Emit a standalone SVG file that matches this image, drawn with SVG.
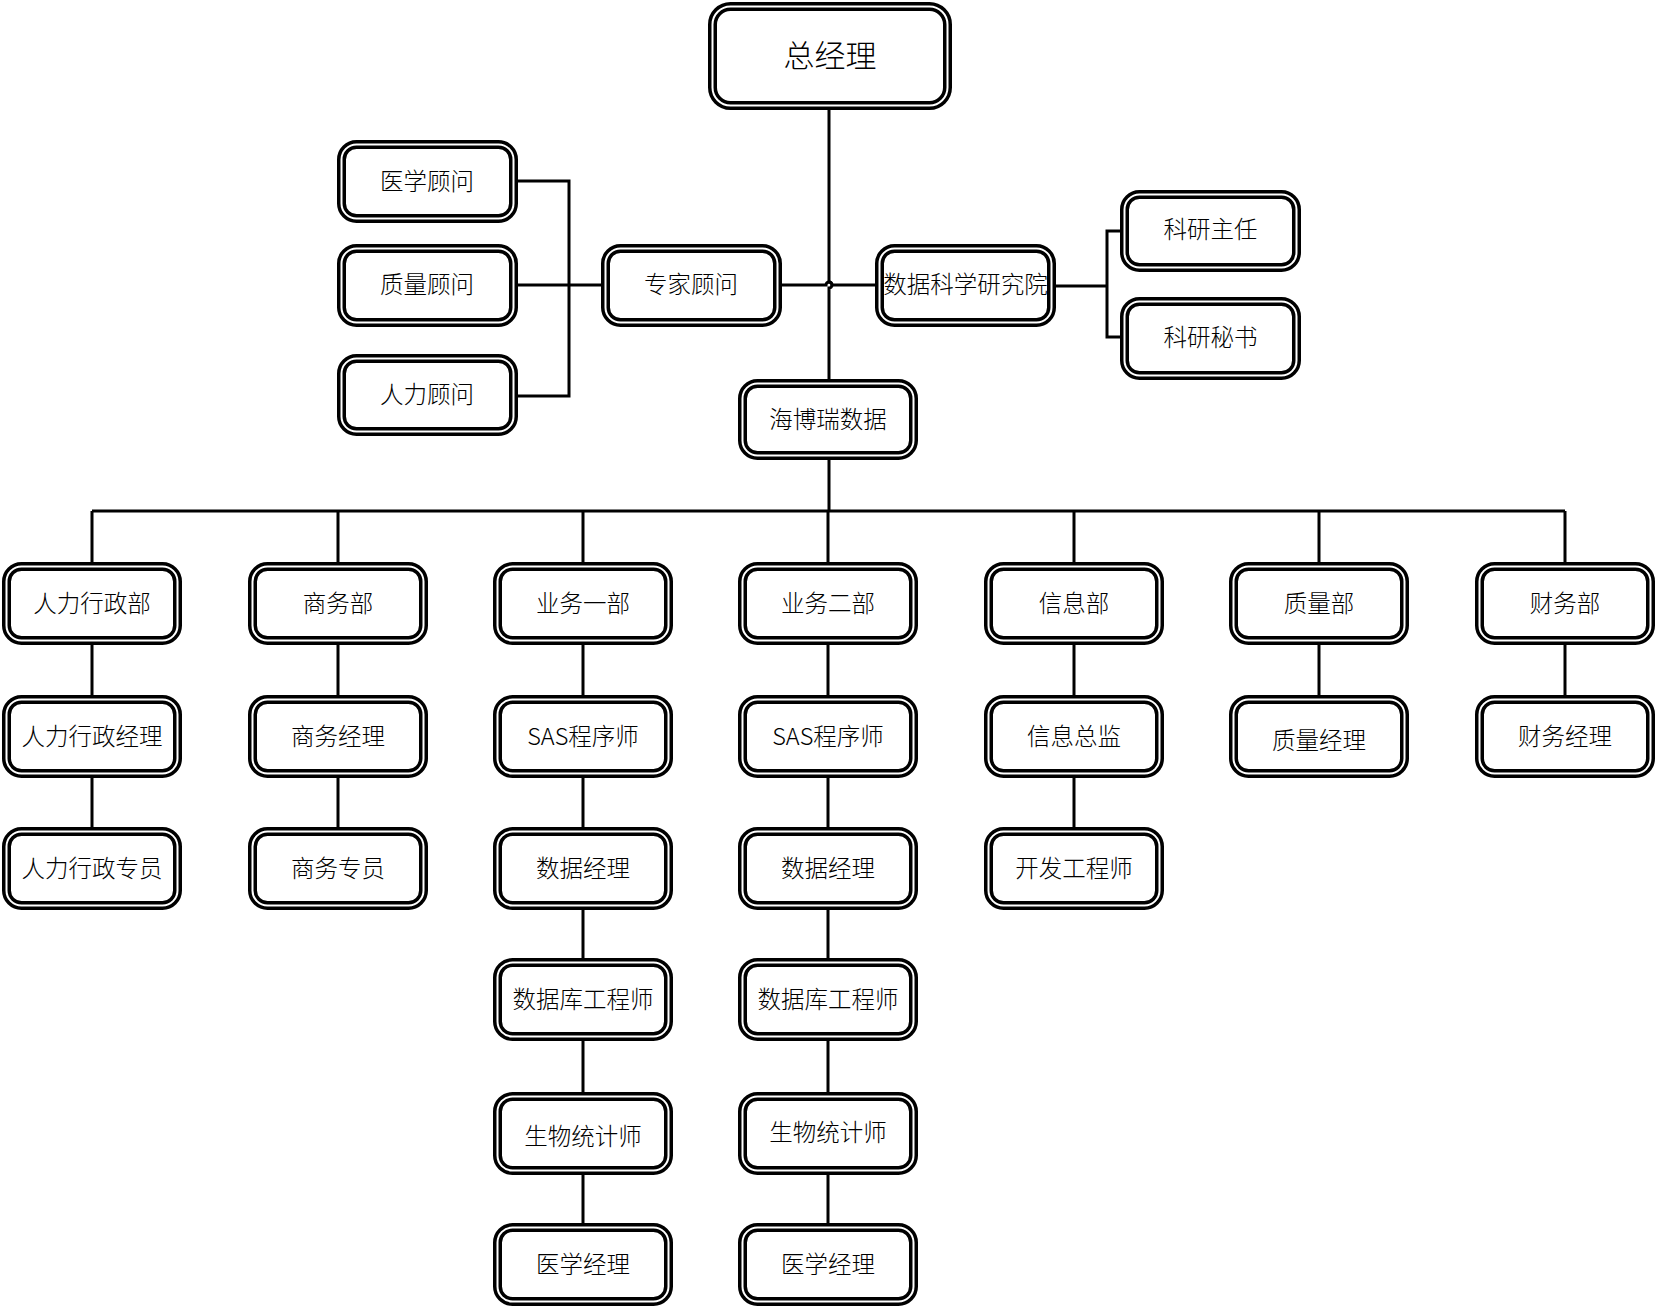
<svg xmlns="http://www.w3.org/2000/svg" width="1657" height="1308" viewBox="0 0 1657 1308">
<style>
.b{fill:#fff;stroke:#000;stroke-width:9}
.w{fill:none;stroke:#fff;stroke-width:2}
.t{font-family:"Noto Sans CJK SC","Noto Sans",sans-serif;font-size:23.5px;font-weight:300;text-anchor:middle;fill:#000}
.big{font-size:31px}
.c{fill:none;stroke:#000;stroke-width:3}
</style>
<rect width="1657" height="1308" fill="#fff"/>
<g id="connectors">
<path class="c" d="M829 110V282a3 3 0 0 1 0 6V379"/>
<path class="c" d="M782 285H826a3 3 0 0 1 6 0H875"/>
<path class="c" d="M518 285H601M518 181H569V396H518"/>
<path class="c" d="M1056 286H1107M1120 231H1107V337H1120"/>
<path class="c" d="M829 460V511M92 511H1565"/>
<path class="c" d="M92 511V562M338 511V562M583 511V562M828 511V562M1074 511V562M1319 511V562M1565 511V562"/>
<path class="c" d="M92 645V695M92 778V827"/>
<path class="c" d="M338 645V695M338 778V827"/>
<path class="c" d="M583 645V695M583 778V827M583 910V958M583 1041V1092M583 1175V1223"/>
<path class="c" d="M828 645V695M828 778V827M828 910V958M828 1041V1092M828 1175V1223"/>
<path class="c" d="M1074 645V695M1074 778V827"/>
<path class="c" d="M1319 645V695"/>
<path class="c" d="M1565 645V695"/>
</g>
<g id="n_zjl"><rect class="b" x="712.5" y="6.5" width="235" height="99" rx="18"/><rect class="w" x="712.5" y="6.5" width="235" height="99" rx="18"/><text class="t big" x="830" y="67">总经理</text></g>
<g id="n_yxgw"><rect class="b" x="341.5" y="144.5" width="172" height="74" rx="15"/><rect class="w" x="341.5" y="144.5" width="172" height="74" rx="15"/><text class="t" x="427" y="190">医学顾问</text></g>
<g id="n_zlgw"><rect class="b" x="341.5" y="248.5" width="172" height="74" rx="15"/><rect class="w" x="341.5" y="248.5" width="172" height="74" rx="15"/><text class="t" x="427" y="293">质量顾问</text></g>
<g id="n_rlgw"><rect class="b" x="341.5" y="358.5" width="172" height="73" rx="15"/><rect class="w" x="341.5" y="358.5" width="172" height="73" rx="15"/><text class="t" x="427" y="403">人力顾问</text></g>
<g id="n_zjgw"><rect class="b" x="605.5" y="248.5" width="172" height="74" rx="15"/><rect class="w" x="605.5" y="248.5" width="172" height="74" rx="15"/><text class="t" x="691" y="293">专家顾问</text></g>
<g id="n_sjkx"><rect class="b" x="879.5" y="248.5" width="172" height="74" rx="15"/><rect class="w" x="879.5" y="248.5" width="172" height="74" rx="15"/><text class="t" x="965.5" y="293">数据科学研究院</text></g>
<g id="n_kyzr"><rect class="b" x="1124.5" y="194.5" width="172" height="73" rx="15"/><rect class="w" x="1124.5" y="194.5" width="172" height="73" rx="15"/><text class="t" x="1210.5" y="238">科研主任</text></g>
<g id="n_kyms"><rect class="b" x="1124.5" y="301.5" width="172" height="74" rx="15"/><rect class="w" x="1124.5" y="301.5" width="172" height="74" rx="15"/><text class="t" x="1210.5" y="346">科研秘书</text></g>
<g id="n_hbr"><rect class="b" x="742.5" y="383.5" width="171" height="72" rx="15"/><rect class="w" x="742.5" y="383.5" width="171" height="72" rx="15"/><text class="t" x="828" y="428">海博瑞数据</text></g>

<g id="n_c0r0"><rect class="b" x="6.5" y="566.5" width="171" height="74" rx="15"/><rect class="w" x="6.5" y="566.5" width="171" height="74" rx="15"/><text class="t" x="92" y="612">人力行政部</text></g>
<g id="n_c0r1"><rect class="b" x="6.5" y="699.5" width="171" height="74" rx="15"/><rect class="w" x="6.5" y="699.5" width="171" height="74" rx="15"/><text class="t" x="92" y="745">人力行政经理</text></g>
<g id="n_c0r2"><rect class="b" x="6.5" y="831.5" width="171" height="74" rx="15"/><rect class="w" x="6.5" y="831.5" width="171" height="74" rx="15"/><text class="t" x="92" y="877">人力行政专员</text></g>

<g id="n_c1r0"><rect class="b" x="252.5" y="566.5" width="171" height="74" rx="15"/><rect class="w" x="252.5" y="566.5" width="171" height="74" rx="15"/><text class="t" x="338" y="612">商务部</text></g>
<g id="n_c1r1"><rect class="b" x="252.5" y="699.5" width="171" height="74" rx="15"/><rect class="w" x="252.5" y="699.5" width="171" height="74" rx="15"/><text class="t" x="338" y="745">商务经理</text></g>
<g id="n_c1r2"><rect class="b" x="252.5" y="831.5" width="171" height="74" rx="15"/><rect class="w" x="252.5" y="831.5" width="171" height="74" rx="15"/><text class="t" x="338" y="877">商务专员</text></g>

<g id="n_c2r0"><rect class="b" x="497.5" y="566.5" width="171" height="74" rx="15"/><rect class="w" x="497.5" y="566.5" width="171" height="74" rx="15"/><text class="t" x="583" y="612">业务一部</text></g>
<g id="n_c2r1"><rect class="b" x="497.5" y="699.5" width="171" height="74" rx="15"/><rect class="w" x="497.5" y="699.5" width="171" height="74" rx="15"/><text class="t" x="583" y="745">SAS程序师</text></g>
<g id="n_c2r2"><rect class="b" x="497.5" y="831.5" width="171" height="74" rx="15"/><rect class="w" x="497.5" y="831.5" width="171" height="74" rx="15"/><text class="t" x="583" y="877">数据经理</text></g>
<g id="n_c2r3"><rect class="b" x="497.5" y="962.5" width="171" height="74" rx="15"/><rect class="w" x="497.5" y="962.5" width="171" height="74" rx="15"/><text class="t" x="583" y="1008">数据库工程师</text></g>
<g id="n_c2r4"><rect class="b" x="497.5" y="1096.5" width="171" height="74" rx="15"/><rect class="w" x="497.5" y="1096.5" width="171" height="74" rx="15"/><text class="t" x="583" y="1145">生物统计师</text></g>
<g id="n_c2r5"><rect class="b" x="497.5" y="1227.5" width="171" height="74" rx="15"/><rect class="w" x="497.5" y="1227.5" width="171" height="74" rx="15"/><text class="t" x="583" y="1273">医学经理</text></g>

<g id="n_c3r0"><rect class="b" x="742.5" y="566.5" width="171" height="74" rx="15"/><rect class="w" x="742.5" y="566.5" width="171" height="74" rx="15"/><text class="t" x="828" y="612">业务二部</text></g>
<g id="n_c3r1"><rect class="b" x="742.5" y="699.5" width="171" height="74" rx="15"/><rect class="w" x="742.5" y="699.5" width="171" height="74" rx="15"/><text class="t" x="828" y="745">SAS程序师</text></g>
<g id="n_c3r2"><rect class="b" x="742.5" y="831.5" width="171" height="74" rx="15"/><rect class="w" x="742.5" y="831.5" width="171" height="74" rx="15"/><text class="t" x="828" y="877">数据经理</text></g>
<g id="n_c3r3"><rect class="b" x="742.5" y="962.5" width="171" height="74" rx="15"/><rect class="w" x="742.5" y="962.5" width="171" height="74" rx="15"/><text class="t" x="828" y="1008">数据库工程师</text></g>
<g id="n_c3r4"><rect class="b" x="742.5" y="1096.5" width="171" height="74" rx="15"/><rect class="w" x="742.5" y="1096.5" width="171" height="74" rx="15"/><text class="t" x="828" y="1141">生物统计师</text></g>
<g id="n_c3r5"><rect class="b" x="742.5" y="1227.5" width="171" height="74" rx="15"/><rect class="w" x="742.5" y="1227.5" width="171" height="74" rx="15"/><text class="t" x="828" y="1273">医学经理</text></g>

<g id="n_c4r0"><rect class="b" x="988.5" y="566.5" width="171" height="74" rx="15"/><rect class="w" x="988.5" y="566.5" width="171" height="74" rx="15"/><text class="t" x="1074" y="612">信息部</text></g>
<g id="n_c4r1"><rect class="b" x="988.5" y="699.5" width="171" height="74" rx="15"/><rect class="w" x="988.5" y="699.5" width="171" height="74" rx="15"/><text class="t" x="1074" y="745">信息总监</text></g>
<g id="n_c4r2"><rect class="b" x="988.5" y="831.5" width="171" height="74" rx="15"/><rect class="w" x="988.5" y="831.5" width="171" height="74" rx="15"/><text class="t" x="1074" y="877">开发工程师</text></g>

<g id="n_c5r0"><rect class="b" x="1233.5" y="566.5" width="171" height="74" rx="15"/><rect class="w" x="1233.5" y="566.5" width="171" height="74" rx="15"/><text class="t" x="1319" y="612">质量部</text></g>
<g id="n_c5r1"><rect class="b" x="1233.5" y="699.5" width="171" height="74" rx="15"/><rect class="w" x="1233.5" y="699.5" width="171" height="74" rx="15"/><text class="t" x="1319" y="749">质量经理</text></g>

<g id="n_c6r0"><rect class="b" x="1479.5" y="566.5" width="171" height="74" rx="15"/><rect class="w" x="1479.5" y="566.5" width="171" height="74" rx="15"/><text class="t" x="1565" y="612">财务部</text></g>
<g id="n_c6r1"><rect class="b" x="1479.5" y="699.5" width="171" height="74" rx="15"/><rect class="w" x="1479.5" y="699.5" width="171" height="74" rx="15"/><text class="t" x="1565" y="745">财务经理</text></g>
</svg>
